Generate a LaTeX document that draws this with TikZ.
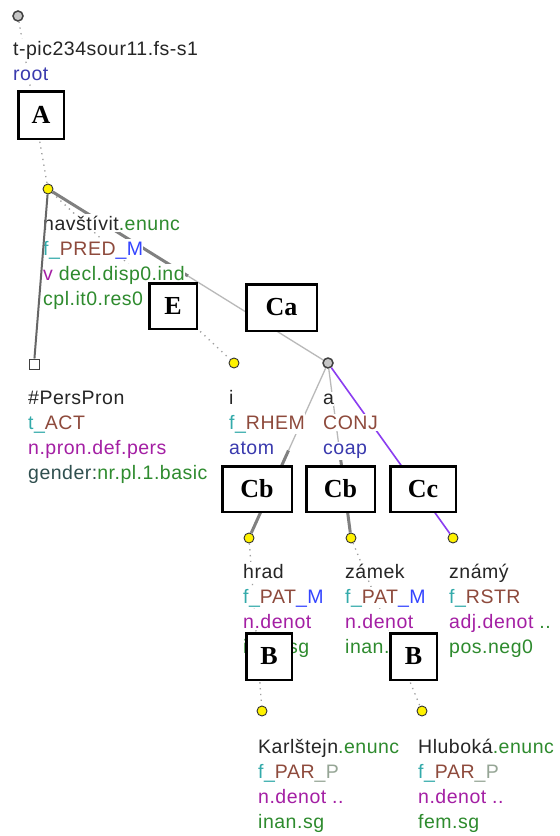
\documentclass[tikz,border=0pt]{standalone}
\usepackage{fontspec}
\setmainfont{Liberation Sans}[LetterSpace=2.6]
\newfontfamily\boxfont{Liberation Serif}
\usetikzlibrary{calc}
\definecolor{cteal}{HTML}{33AAAA}
\definecolor{cbrown}{HTML}{8E4A3C}
\definecolor{cbright}{HTML}{3344FF}
\definecolor{croot}{HTML}{3A3AAE}
\definecolor{cpurp}{HTML}{A41FA4}
\definecolor{cgreen}{HTML}{2E8B2E}
\definecolor{cpale}{HTML}{95A595}
\definecolor{cslate}{HTML}{2F4F4F}
\definecolor{cviol}{HTML}{8A3CF0}
\newcommand\cT[1]{\textcolor{cteal}{#1}}
\newcommand\cBr[1]{\textcolor{cbrown}{#1}}
\newcommand\cBl[1]{\textcolor{cbright}{#1}}
\newcommand\cRb[1]{\textcolor{croot}{#1}}
\newcommand\cPu[1]{\textcolor{cpurp}{#1}}
\newcommand\cGr[1]{\textcolor{cgreen}{#1}}
\newcommand\cPa[1]{\textcolor{cpale}{#1}}
\newcommand\cSl[1]{\textcolor{cslate}{#1}}
\tikzset{
  lbl/.style={anchor=base west, inner xsep=0pt, inner ysep=1.5pt, fill=white, text=black!85,
    font=\fontsize{19.5bp}{25bp}\selectfont},
  lbox/.style={draw=black, line width=2.5bp, fill=white, inner sep=0pt,
    font=\boxfont\fontsize{26bp}{26bp}\selectfont\bfseries},
  ynode/.style={circle, fill=yellow, draw=black!80, line width=0.9bp, minimum size=10bp, inner sep=0pt},
  gnode/.style={circle, fill=gray!45, draw=black!75, line width=1.5bp, minimum size=10bp, inner sep=0pt},
  snode/.style={rectangle, fill=white, draw=black!75, line width=1bp, minimum size=10bp, inner sep=0pt},
  dotl/.style={draw=gray!75, line width=1.3bp, dash pattern=on 1.3bp off 4.5bp},
  thickl/.style={draw=gray, line width=3bp},
  thinl/.style={draw=gray!55, line width=1.3bp},
  persl/.style={draw=black!60, line width=2bp},
  violl/.style={draw=cviol, line width=1.6bp},
}
\begin{document}
\begin{tikzpicture}[x=1bp,y=-1bp]
\fill[white] (0,0) rectangle (560,836);
\useasboundingbox (0,0) rectangle (560,836);
% tree nodes
\node[gnode] (root) at (18,16) {};
\node[ynode] (nav) at (48,189) {};
\node[snode] (pers) at (34,364) {};
\node[ynode] (ni) at (234,363) {};
\node[gnode] (coap) at (328,363) {};
\node[ynode] (hrad) at (249,538) {};
\node[ynode] (zamek) at (351,538) {};
\node[ynode] (znamy) at (453,538) {};
\node[ynode] (karl) at (262,711) {};
\node[ynode] (hlub) at (422,711) {};
% edges
\draw[dotl] (root) -- (nav);
\draw[dotl] (nav) -- (ni);
\coordinate (m1) at ($(nav)!0.5!(coap)$);
\draw[thickl] (nav) -- (m1);
\draw[thinl] (m1) -- (coap);
\coordinate (m2) at ($(coap)!0.5!(hrad)$);
\draw[thinl] (coap) -- (m2);
\draw[thickl] (m2) -- (hrad);
\coordinate (m3) at ($(coap)!0.5!(zamek)$);
\draw[thinl] (coap) -- (m3);
\draw[thickl] (m3) -- (zamek);
\draw[violl] (coap) -- (znamy);
\draw[dotl] (hrad) -- (karl);
\draw[dotl] (zamek) -- (hlub);
% labels
\node[lbl] (r1) at (13,55) {t-pic234sour11.fs-s1};
\node[lbl] (r2) at (13,80) {\cRb{root}};
\node[lbl] (v1) at (43,230) {navštívit\cGr{.enunc}};
\node[lbl] (v2) at (43,255) {\cT{f\_}\cBr{PRED}\cBl{\_M}};
\node[lbl] (v3) at (43,280) {\cPu{v} \cGr{decl.disp0.ind}};
\node[lbl] (v4) at (43,305) {\cGr{cpl.it0.res0}};
\node[lbl] (p1) at (28,404) {\#PersPron};
\node[lbl] (p2) at (28,429) {\cT{t\_}\cBr{ACT}};
\node[lbl] (p3) at (28,454) {\cPu{n.pron.def.pers}};
\node[lbl] (p4) at (28,479) {\cSl{gender:}\cGr{nr.pl.1.basic}};
\node[lbl] (i1) at (229,404) {i};
\node[lbl] (i2) at (229,429) {\cT{f\_}\cBr{RHEM}};
\node[lbl] (i3) at (229,454) {\cRb{atom}};
\node[lbl] (a1) at (323,404) {a};
\node[lbl] (a2) at (323,429) {\cBr{CONJ}};
\node[lbl] (a3) at (323,454) {\cRb{coap}};
\node[lbl] (h1) at (243,578) {hrad};
\node[lbl] (h2) at (243,603) {\cT{f\_}\cBr{PAT}\cBl{\_M}};
\node[lbl] (h3) at (243,628) {\cPu{n.denot}};
\node[lbl] (h4) at (243,653) {\cGr{inan.sg}};
\node[lbl] (z1) at (345,578) {zámek};
\node[lbl] (z2) at (345,603) {\cT{f\_}\cBr{PAT}\cBl{\_M}};
\node[lbl] (z3) at (345,628) {\cPu{n.denot}};
\node[lbl] (z4) at (345,653) {\cGr{inan.sg}};
\node[lbl] (n1) at (449,578) {známý};
\node[lbl] (n2) at (449,603) {\cT{f\_}\cBr{RSTR}};
\node[lbl] (n3) at (449,628) {\cPu{adj.denot} \cGr{..}};
\node[lbl] (n4) at (449,653) {\cGr{pos.neg0}};
\node[lbl] (k1) at (258,753) {Karlštejn\cGr{.enunc}};
\node[lbl] (k2) at (258,778) {\cT{f\_}\cBr{PAR}\cPa{\_P}};
\node[lbl] (k3) at (258,803) {\cPu{n.denot ..}};
\node[lbl] (k4) at (258,828) {\cGr{inan.sg}};
\node[lbl] (l1) at (418,753) {Hluboká\cGr{.enunc}};
\node[lbl] (l2) at (418,778) {\cT{f\_}\cBr{PAR}\cPa{\_P}};
\node[lbl] (l3) at (418,803) {\cPu{n.denot ..}};
\node[lbl] (l4) at (418,828) {\cGr{fem.sg}};
% edge over text
\draw[persl] (nav) -- (pers);
% boxes
\node[lbox, minimum width=45.5bp, minimum height=47.5bp] (bA) at (41,115) {A};
\node[lbox, minimum width=47.5bp, minimum height=45.5bp] (bE) at (173,306) {E};
\node[lbox, minimum width=70.5bp, minimum height=46.5bp] (bCa) at (281.5,307.5) {Ca};
\node[lbox, minimum width=69.5bp, minimum height=45.5bp] (bCb1) at (257,489) {Cb};
\node[lbox, minimum width=68.5bp, minimum height=45.5bp] (bCb2) at (340.5,489) {Cb};
\node[lbox, minimum width=65.5bp, minimum height=45.5bp] (bCc) at (423,489) {Cc};
\node[lbox, minimum width=45.5bp, minimum height=46.5bp] (bB1) at (269,656.5) {B};
\node[lbox, minimum width=46.5bp, minimum height=46.5bp] (bB2) at (413.5,656.5) {B};
\end{tikzpicture}
\end{document}
